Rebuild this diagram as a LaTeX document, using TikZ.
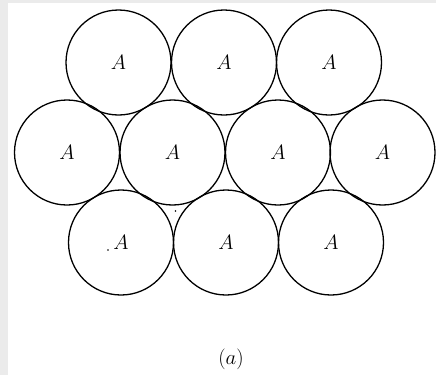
\documentclass[tikz,border=0pt]{standalone}
\begin{document}
\begin{tikzpicture}[x=1pt,y=-1pt,
  ball/.style={circle,draw=black,line width=1.3pt,minimum size=105pt,inner sep=0pt,
    font=\fontsize{20}{22}\selectfont},
  speck/.style={circle,fill=black,inner sep=0pt,minimum size=1.8pt}]
\fill[black!8] (0,0) rectangle (436,375);
\fill[white] (8,3) rectangle (436,375);
\useasboundingbox (0,0) rectangle (436,375);
% top row
\node[ball] (t1) at (118.5,62.5) {$A$};
\node[ball] (t2) at (224,62.5) {$A$};
\node[ball] (t3) at (329,62.5) {$A$};
% middle row
\node[ball] (m1) at (67,152.5) {$A$};
\node[ball] (m2) at (172.5,152.5) {$A$};
\node[ball] (m3) at (278,152.5) {$A$};
\node[ball] (m4) at (382.5,152.5) {$A$};
% bottom row
\node[ball] (b1) at (121,242.5) {$A$};
\node[ball] (b2) at (226,242.5) {$A$};
\node[ball] (b3) at (331,242.5) {$A$};
% specks
\node[speck] (s1) at (108,250) {};
\node[speck] (s2) at (175.5,211) {};
\node[font=\fontsize{21}{24}\selectfont] (lab) at (231,359) {$(a)$};
\end{tikzpicture}
\end{document}
